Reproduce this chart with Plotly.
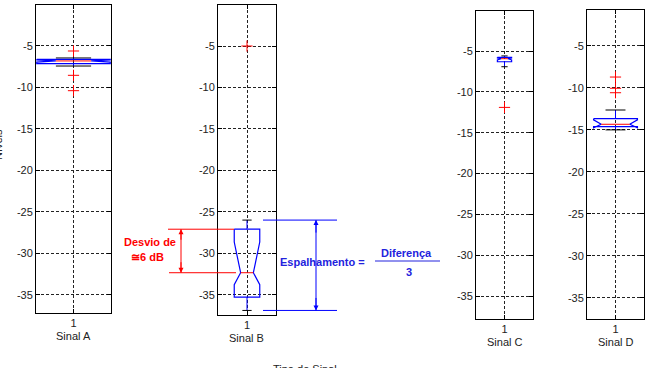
import plotly.graph_objects as go

W, H = 646, 368

# ---------------- data ----------------
signals = ["Sinal A", "Sinal B", "Sinal C", "Sinal D"]
upper_whisker = [-6.48, -26.0, -5.6, -12.63]
q3 = [-6.64, -27.1, -5.77, -13.66]
notch_hi = [-6.72, -28.65, -5.85, -13.8]
median = [-6.84, -32.35, -5.94, -14.33]
notch_lo = [-6.98, -33.8, -6.1, -14.75]
q1 = [-7.17, -35.3, -6.31, -14.62]
lower_whisker = [-7.45, -36.9, -6.92, -15.0]
outliers = [[-5.64, -8.57, -10.42], [-5.0], [-11.9], [-8.7, -10.04, -10.57]]
y_ticks = [-35, -30, -25, -20, -15, -10, -5]
x_tick_labels = ["1"]
y_title = "Níveis"
x_title = "Tipo de Sinal"

# ---------------- styles / layout (pixels) ----------------
dom_px = [(36, 111, 5, 313), (218, 276, 5, 315), (476, 533, 11, 319), (587, 644, 10, 319)]
y_ranges = [(-37.2, -0.1), (-37.45, -0.05), (-37.8, -0.1), (-37.54, -0.71)]
box_hw = [0.49, 0.22, 0.125, 0.385]
notch_hw = [0.235, 0.11, 0.06, 0.25]
cap_hw = [0.235, 0.08, 0.055, 0.175]

BLUE = "#0000ff"
RED = "#ff0000"
FONT = "Liberation Sans, Arial, sans-serif"


def fx(p):
    return p / W


def fy(p):
    return 1 - p / H


fig = go.Figure()
layout = dict(
    width=W, height=H, margin=dict(l=0, r=0, t=0, b=0),
    paper_bgcolor="white", plot_bgcolor="white", showlegend=False,
    font=dict(family=FONT, size=11, color="#222"),
)
annotations = []
shapes = []

for i, name in enumerate(signals):
    k = "" if i == 0 else str(i + 1)
    xa, ya = "x" + k, "y" + k
    x0p, x1p, y0p, y1p = dom_px[i]
    axis_common = dict(
        showline=True, linecolor="black", linewidth=1, mirror="ticks",
        ticks="inside", ticklen=4, tickcolor="black",
        showgrid=True, gridcolor="#222", gridwidth=1, griddash="3px,2px",
        zeroline=False, tickfont=dict(family=FONT, size=11, color="#222"),
        fixedrange=True,
    )
    layout["xaxis" + k] = dict(
        axis_common, domain=[fx(x0p), fx(x1p)], range=[0.5, 1.5],
        tickvals=[1], ticktext=x_tick_labels, anchor=ya,
    )
    layout["yaxis" + k] = dict(
        axis_common, domain=[fy(y1p), fy(y0p)], range=list(y_ranges[i]),
        tickvals=y_ticks, ticktext=[str(v) for v in y_ticks], anchor=xa,
    )

    c = 1.0
    w, nw, cw = box_hw[i], notch_hw[i], cap_hw[i]
    # whiskers (blue)
    fig.add_trace(go.Scatter(
        x=[c, c, None, c, c], y=[q3[i], upper_whisker[i], None, q1[i], lower_whisker[i]],
        mode="lines", line=dict(color=BLUE, width=1), xaxis=xa, yaxis=ya, hoverinfo="skip"))
    # caps (black)
    fig.add_trace(go.Scatter(
        x=[c - cw, c + cw, None, c - cw, c + cw],
        y=[upper_whisker[i], upper_whisker[i], None, lower_whisker[i], lower_whisker[i]],
        mode="lines", line=dict(color="black", width=1), xaxis=xa, yaxis=ya, hoverinfo="skip"))
    # notched box (blue)
    bx = [c - w, c + w, c + w, c + nw, c + w, c + w, c - w, c - w, c - nw, c - w, c - w]
    by = [q3[i], q3[i], notch_hi[i], median[i], notch_lo[i], q1[i], q1[i], notch_lo[i],
          median[i], notch_hi[i], q3[i]]
    fig.add_trace(go.Scatter(x=bx, y=by, mode="lines", line=dict(color=BLUE, width=1.2),
                             xaxis=xa, yaxis=ya, hoverinfo="skip"))
    # median (red)
    fig.add_trace(go.Scatter(x=[c - nw, c + nw], y=[median[i], median[i]], mode="lines",
                             line=dict(color=RED, width=1), xaxis=xa, yaxis=ya, hoverinfo="skip"))
    # outliers
    fig.add_trace(go.Scatter(
        x=[c] * len(outliers[i]), y=outliers[i], mode="markers",
        marker=dict(symbol="cross-thin", size=8, line=dict(color=RED, width=1)),
        xaxis=xa, yaxis=ya, hoverinfo="skip"))
    # signal name under the tick label
    annotations.append(dict(
        text=name, xref="paper", yref="paper", x=fx((x0p + x1p) / 2), y=fy(y1p + 23),
        xanchor="center", yanchor="middle", showarrow=False,
        font=dict(family=FONT, size=11, color="#222")))

# axis titles
annotations.append(dict(text=y_title, xref="paper", yref="paper", x=fx(6), y=fy(145),
                        xanchor="right", yanchor="middle", textangle=-90, showarrow=False,
                        font=dict(family=FONT, size=11, color="#222")))
annotations.append(dict(text=x_title, xref="paper", yref="paper", x=fx(305), y=fy(361),
                        xanchor="center", yanchor="top", showarrow=False,
                        font=dict(family=FONT, size=11, color="#222")))

# ---- red "Desvio" annotation (tied to Sinal B q3 and median) ----
b = 1
for yv, xs in ((q3[b], (168, 234)), (median[b], (169, 236))):
    shapes.append(dict(type="line", xref="paper", yref="y2", x0=fx(xs[0]), x1=fx(xs[1]),
                       y0=yv, y1=yv, line=dict(color=RED, width=1)))
shapes.append(dict(type="line", xref="paper", yref="y2", x0=fx(181), x1=fx(181),
                   y0=q3[b], y1=median[b], line=dict(color=RED, width=1)))
for yv, off in ((q3[b], 12), (median[b], -12)):
    annotations.append(dict(text="", xref="paper", yref="y2", x=fx(181), y=yv, ax=0, ay=off,
                            showarrow=True, arrowhead=2, arrowsize=1, arrowwidth=1,
                            arrowcolor=RED, standoff=0))
annotations.append(dict(text="<b>Desvio de</b>", xref="paper", yref="paper", x=fx(150), y=fy(242),
                        xanchor="center", yanchor="middle", showarrow=False,
                        font=dict(family=FONT, size=11, color=RED)))
annotations.append(dict(text="<b>≅6 dB</b>", xref="paper", yref="paper", x=fx(147), y=fy(257),
                        xanchor="center", yanchor="middle", showarrow=False,
                        font=dict(family=FONT, size=11, color=RED)))

# ---- blue "Espalhamento" annotation (tied to Sinal B whiskers) ----
for yv in (upper_whisker[b], lower_whisker[b]):
    shapes.append(dict(type="line", xref="paper", yref="y2", x0=fx(263), x1=fx(337),
                       y0=yv, y1=yv, line=dict(color=BLUE, width=1)))
shapes.append(dict(type="line", xref="paper", yref="y2", x0=fx(316), x1=fx(316),
                   y0=upper_whisker[b], y1=lower_whisker[b], line=dict(color=BLUE, width=1)))
for yv, off in ((upper_whisker[b], 14), (lower_whisker[b], -14)):
    annotations.append(dict(text="", xref="paper", yref="y2", x=fx(316), y=yv, ax=0, ay=off,
                            showarrow=True, arrowhead=2, arrowsize=1, arrowwidth=1,
                            arrowcolor=BLUE, standoff=0))
BLUE_T = "#2222dd"
annotations.append(dict(text="<b>Espalhamento =</b>", xref="paper", yref="paper", x=fx(322), y=fy(262),
                        xanchor="center", yanchor="middle", showarrow=False,
                        font=dict(family=FONT, size=11, color=BLUE_T)))
annotations.append(dict(text="<b>Diferença</b>", xref="paper", yref="paper", x=fx(407), y=fy(253),
                        xanchor="center", yanchor="middle", showarrow=False,
                        font=dict(family=FONT, size=11, color=BLUE_T)))
annotations.append(dict(text="<b>3</b>", xref="paper", yref="paper", x=fx(409), y=fy(272),
                        xanchor="center", yanchor="middle", showarrow=False,
                        font=dict(family=FONT, size=11, color=BLUE_T)))
shapes.append(dict(type="line", xref="paper", yref="paper", x0=fx(375), x1=fx(440),
                   y0=fy(261), y1=fy(261), line=dict(color=BLUE_T, width=1)))

layout["annotations"] = annotations
layout["shapes"] = shapes
fig.update_layout(**layout)
fig.write_html("out.html")
